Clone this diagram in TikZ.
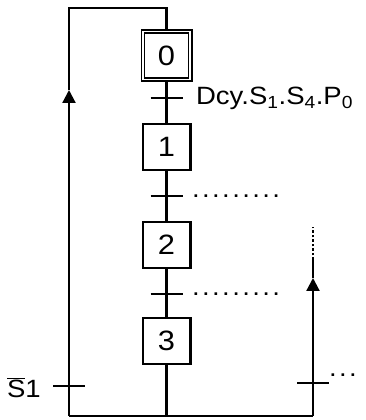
\documentclass[tikz,border=0pt]{standalone}
\usepackage{fontspec}
\setmainfont{Liberation Sans}[FakeStretch=1.1]
\usetikzlibrary{arrows.meta}

% a row of spaced dots
\newcommand\dotrow[1]{\foreach \k in {1,...,#1}{.\kern2.4pt}}

\begin{document}
\begin{tikzpicture}[x=1pt,y=1pt,line width=2.2pt,
  font=\fontsize{25}{30}\selectfont,
  stepbox/.style={draw,minimum width=47.8pt,minimum height=45.8pt,inner sep=0pt,
    font=\fontsize{28}{30}\selectfont},
  initstep/.style={stepbox,double,double distance=1.4pt,line width=1.7pt,
    minimum width=47.2pt,minimum height=48.2pt},
  lbl/.style={anchor=base west,inner sep=0pt},
  up/.style={-{Triangle[length=13pt,width=13pt]}}]
\useasboundingbox (0,0) rectangle (365,420);

% steps
\node[initstep] (s0) at (166.5,364.5) {0};
\node[stepbox] (s1) at (166.5,273) {1};
\node[stepbox] (s2) at (166.5,175) {2};
\node[stepbox] (s3) at (166.5,79) {3};

% points of the loops
\coordinate (t0) at (166.5,322);
\coordinate (t1) at (166.5,224);
\coordinate (t2) at (166.5,126);
\coordinate (bc) at (166.5,4);
\coordinate (bl) at (69,4);
\coordinate (la) at (69,330);
\coordinate (tl) at (69,412);
\coordinate (tc) at (166.5,412);
\coordinate (lt) at (69,34);
\coordinate (br) at (313,4);
\coordinate (ra) at (313,142);
\coordinate (rm) at (313,160);
\coordinate (ru) at (313,193);
\coordinate (rt) at (313,37);

% links
\draw (s0) -- (s1);
\draw (s1) -- (s2);
\draw (s2) -- (s3);
\draw (s3) -- (bc);
\draw (bl) -- (br);
\draw[up] (bl) -- (la);
\draw (la) -- (tl) -- (tc) -- (s0);
\draw[up] (br) -- (ra);
\draw (ra) -- (rm);
\draw[dash pattern=on 2.5pt off 2pt] (rm) -- (ru);

% transitions
\foreach \t in {t0,t1,t2,lt,rt}
  \draw ([xshift=-16pt]\t) -- ([xshift=16pt]\t);

% receptivities
\node[lbl] (r0) at (195,315) {Dcy.S\textsubscript{1}.S\textsubscript{4}.P\textsubscript{0}};
\node[lbl] (r1) at (191,222) {\dotrow{9}};
\node[lbl] (r2) at (191,124) {\dotrow{9}};
\node[lbl] (r3) at (6,23) {$\overline{\mbox{S}}$1};
\node[lbl] (r4) at (328,43) {\dotrow{3}};
\end{tikzpicture}
\end{document}
